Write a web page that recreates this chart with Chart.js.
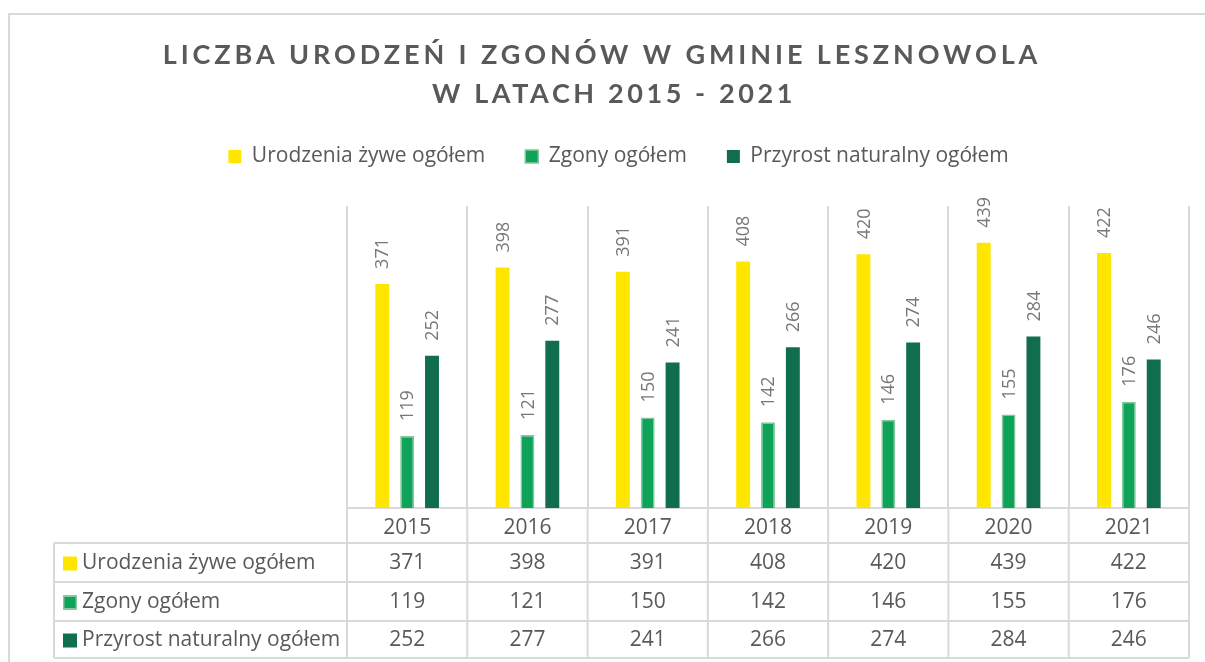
<!DOCTYPE html>
<html>
<head>
<meta charset="utf-8">
<script src="https://cdn.jsdelivr.net/npm/chart.js@4.4.1/dist/chart.umd.min.js"></script>
<style>
  html, body { margin: 0; padding: 0; background: #fff; }
  #wrap { width: 1205px; height: 662px; }
</style>
</head>
<body>
<div id="wrap"><canvas id="chart"></canvas></div>
<script>
// --- data ---
const TITLE_LINES = ["LICZBA URODZEŃ I ZGONÓW W GMINIE LESZNOWOLA", "W LATACH 2015 - 2021"];
const YEARS = ["2015", "2016", "2017", "2018", "2019", "2020", "2021"];
const SERIES_NAMES = ["Urodzenia żywe ogółem", "Zgony ogółem", "Przyrost naturalny ogółem"];
const BIRTHS = [371, 398, 391, 408, 420, 439, 422];
const DEATHS = [119, 121, 150, 142, 146, 155, 176];
const NATURAL_GROWTH = [252, 277, 241, 266, 274, 284, 246];
const Y_MIN = 0;
const Y_MAX = 500;

const TITLE_FONT = "Lato, 'Open Sans', sans-serif";
const FONT = "'Open Sans', Lato, sans-serif";
const TEXT = "#595959";
const LABEL = "#777777";
const LINE = "#d9d9d9";
const YELLOW = "#ffe600";
const GREEN = "#0fa35a";
const GREEN_EDGE = "#84c79c";
const DARK = "#106e4e";

// white background + outer frame
const framePlugin = {
    id: "frame",
    beforeDraw(chart) {
        const { ctx, width, height } = chart;
        ctx.save();
        ctx.fillStyle = "#fff";
        ctx.fillRect(0, 0, width, height);
        ctx.strokeStyle = LINE;
        ctx.lineWidth = 2;
        ctx.beginPath();
        ctx.moveTo(9, height);
        ctx.lineTo(9, 14);
        ctx.lineTo(width, 14);
        ctx.stroke();
        ctx.restore();
    },
};

// spaced-out title, like the Excel one
const titlePlugin = {
    id: "spacedTitle",
    afterDraw(chart) {
        const ctx = chart.ctx;
        ctx.save();
        ctx.font = `bold 27px ${TITLE_FONT}`;
        ctx.fillStyle = TEXT;
        ctx.textAlign = "center";
        ctx.textBaseline = "alphabetic";
        ctx.letterSpacing = "3.9px";
        ctx.fillText(TITLE_LINES[0], 602, 64);
        ctx.letterSpacing = "3.6px";
        ctx.fillText(TITLE_LINES[1], 614, 103);
        ctx.restore();
    },
};

// extra room under the legend
const legendGap = {
    id: "legendGap",
    beforeInit(chart) {
        const fit = chart.legend.fit;
        chart.legend.fit = function () {
            fit.call(this);
            this.height += 29;
        };
    },
};

// rotated value labels above bars
const barLabels = {
    id: "barLabels",
    afterDatasetsDraw(chart) {
        const ctx = chart.ctx;
        ctx.save();
        ctx.font = `18px ${FONT}`;
        ctx.fillStyle = LABEL;
        ctx.textAlign = "left";
        ctx.textBaseline = "middle";
        chart.data.datasets.forEach((ds, di) => {
            chart.getDatasetMeta(di).data.forEach((bar, i) => {
                ctx.save();
                ctx.translate(bar.x + 1, bar.y - 15);
                ctx.rotate(-Math.PI / 2);
                ctx.fillText(String(ds.data[i]), 0, 0);
                ctx.restore();
            });
        });
        ctx.restore();
    },
};

// data table under the x axis
const dataTable = {
    id: "dataTable",
    afterDraw(chart) {
        const { ctx, chartArea } = chart;
        const x = chart.scales.x;
        const rowTops = [543, 582, 621];
        const rowBottom = 658;
        const tableLeft = 54;
        ctx.save();
        ctx.strokeStyle = LINE;
        ctx.lineWidth = 2;
        ctx.beginPath();
        // horizontal rules
        [...rowTops, rowBottom].forEach(y => {
            ctx.moveTo(tableLeft, y);
            ctx.lineTo(x.right, y);
        });
        ctx.moveTo(tableLeft, rowTops[0]);
        ctx.lineTo(tableLeft, rowBottom);
        // column separators continue down from the grid
        const step = (x.right - x.left) / YEARS.length;
        for (let i = 0; i <= YEARS.length; i++) {
            const cx = x.left + i * step;
            ctx.moveTo(cx, chartArea.bottom);
            ctx.lineTo(cx, rowBottom);
        }
        ctx.stroke();

        ctx.font = `21px ${FONT}`;
        ctx.textBaseline = "middle";
        chart.data.datasets.forEach((ds, di) => {
            const cy = (rowTops[di] + (rowTops[di + 1] || rowBottom)) / 2 + 1;
            // legend key
            ctx.fillStyle = ds.backgroundColor;
            ctx.fillRect(63, cy - 7, 14, 14);
            if (ds.borderWidth) {
                ctx.strokeStyle = ds.borderColor;
                ctx.lineWidth = 1.5;
                ctx.strokeRect(63.75, cy - 6.25, 12.5, 12.5);
            }
            ctx.fillStyle = TEXT;
            ctx.textAlign = "left";
            ctx.fillText(ds.label, 82, cy);
            ctx.textAlign = "center";
            ds.data.forEach((v, i) => {
                ctx.fillText(String(v), x.getPixelForValue(i), cy);
            });
        });
        ctx.restore();
    },
};

new Chart(document.getElementById("chart"), {
    type: "bar",
    data: {
        labels: YEARS,
        datasets: [
            { label: SERIES_NAMES[0], data: BIRTHS, backgroundColor: YELLOW, borderWidth: 0 },
            { label: SERIES_NAMES[1], data: DEATHS, backgroundColor: GREEN, borderColor: GREEN_EDGE, borderWidth: 1.5 },
            { label: SERIES_NAMES[2], data: NATURAL_GROWTH, backgroundColor: DARK, borderWidth: 0 },
        ],
    },
    options: {
        responsive: true,
        maintainAspectRatio: false,
        animation: false,
        categoryPercentage: 0.62,
        barPercentage: 0.56,
        layout: { padding: { top: 106, left: 48, right: 16, bottom: 119 } },
        plugins: {
            title: { display: false },
            tooltip: { enabled: false },
            legend: {
                position: "top",
                labels: {
                    color: TEXT,
                    font: { family: FONT, size: 21 },
                    boxWidth: 13,
                    boxHeight: 13,
                    padding: 40,
                },
            },
        },
        scales: {
            x: {
                grid: { color: LINE, lineWidth: 2, drawTicks: false, offset: true },
                border: { color: LINE, width: 2 },
                ticks: { color: TEXT, font: { family: FONT, size: 21 }, padding: 7 },
                afterFit(s) { s.height = 35; },
            },
            y: {
                min: Y_MIN,
                max: Y_MAX,
                grid: { display: false },
                border: { display: false },
                ticks: { display: false },
                afterFit(s) { s.width = 299; },
            },
        },
    },
    plugins: [framePlugin, legendGap, barLabels, dataTable, titlePlugin],
});
</script>
</body>
</html>
